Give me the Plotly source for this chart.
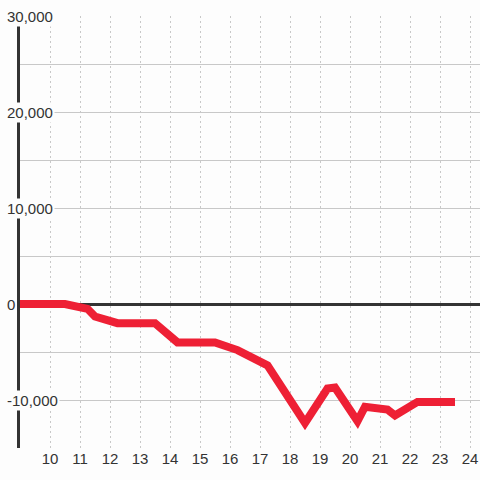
import plotly.graph_objects as go

# Data (hour of day vs. value)
hours = [9, 10.5, 11.25, 11.5, 12.25, 13.5, 14.25, 15.5, 16.25, 17.25, 18.5,
         19.25, 19.5, 20.25, 20.5, 21.25, 21.5, 22.25, 23.5]
values = [0, 0, -500, -1300, -2000, -2000, -4000, -4000, -4800, -6400, -12400,
          -8800, -8700, -12200, -10700, -11000, -11600, -10200, -10200]

x_ticks = list(range(10, 25))
y_label_vals = [30000, 20000, 10000, 0, -10000]
y_label_text = ["30,000", "20,000", "10,000", "0", "-10,000"]

BG = "#fdfdfd"
TXT = "#333333"

fig = go.Figure()
fig.add_trace(go.Scatter(
    x=hours, y=values, mode="lines",
    line=dict(color="#ee2035", width=8),
    hoverinfo="skip", showlegend=False,
))

for v, t in zip(y_label_vals, y_label_text):
    fig.add_annotation(
        x=-15 / 460, xref="paper", xanchor="left",
        y=v, yref="y", yanchor="middle",
        text=t, showarrow=False, bgcolor=BG, borderpad=1,
        font=dict(family="Liberation Sans, Arial, sans-serif", size=15, color=TXT),
    )

fig.update_layout(
    width=480, height=480,
    margin=dict(l=20, r=0, t=16, b=32),
    paper_bgcolor=BG, plot_bgcolor=BG,
    font=dict(family="Liberation Sans, Arial, sans-serif", size=14, color=TXT),
    xaxis=dict(
        range=[9, 24 + 1 / 3],
        tickvals=x_ticks,
        showgrid=True, gridcolor="#c8c8c8", gridwidth=1, griddash="2px,3px",
        zeroline=False, showline=False, ticks="",
        tickfont=dict(size=15, color=TXT),
    ),
    yaxis=dict(
        range=[-15000, 30000],
        tickvals=[30000, 25000, 20000, 15000, 10000, 5000, 0, -5000, -10000, -15000],
        showticklabels=False,
        showgrid=True, gridcolor="#c8c8c8", gridwidth=1,
        zeroline=True, zerolinecolor="#333333", zerolinewidth=3,
        showline=True, linecolor="#333333", linewidth=3, ticks="",
    ),
)

fig.write_html(
    "out.html",
    config={"displayModeBar": False},
    post_script="document.body.style.margin='0px';document.body.style.background='%s';" % BG,
)
